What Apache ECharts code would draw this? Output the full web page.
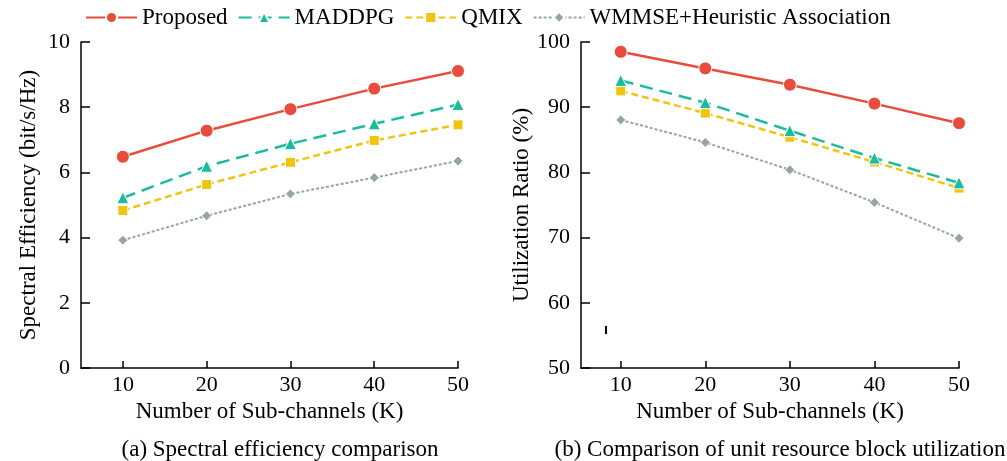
<!DOCTYPE html>
<html>
<head>
<meta charset="utf-8">
<script src="https://cdn.jsdelivr.net/npm/echarts@6/dist/echarts.min.js"></script>
<style>
  html, body { margin: 0; padding: 0; background: #fff; }
  #chart { width: 1007px; height: 461px; }
</style>
</head>
<body>
<div id="chart"></div>
<script>
// 横轴：子信道数
var subChannels = [10, 20, 30, 40, 50];
var seriesNames = ['Proposed', 'MADDPG', 'QMIX', 'WMMSE+Heuristic Association'];

// (a) 频谱效率
var seProposed = [6.48, 7.28, 7.94, 8.57, 9.11];
var seMaddpg = [5.22, 6.19, 6.88, 7.49, 8.08];
var seQmix = [4.83, 5.63, 6.31, 6.98, 7.46];
var seWmmse = [3.92, 4.67, 5.34, 5.84, 6.35];

// (b) 资源块利用率 (%)
var urProposed = [98.5, 95.95, 93.45, 90.55, 87.55];
var urMaddpg = [94.1, 90.7, 86.4, 82.2, 78.4];
var urQmix = [92.5, 89.1, 85.4, 81.6, 77.6];
var urWmmse = [88.05, 84.6, 80.4, 75.4, 69.9];

var yTicksA = [0, 2, 4, 6, 8, 10];
var yTicksB = [50, 60, 70, 80, 90, 100];

var colors = ['#e74c3c', '#1abc9c', '#f1c40f', '#95a5a6'];
var symbols = ['circle', 'triangle', 'rect', 'diamond'];
var symbolSizes = [13, 12, 10, 10];
var lineTypes = ['solid', [13, 7], [7, 4], [3, 2]];
var lineWidths = [2.5, 2.5, 2.5, 2];

var font = 'Liberation Serif';

function pairs(vals){
  var out = [];
  for (var i = 0; i < subChannels.length; i++) out.push([subChannels[i], vals[i]]);
  return out;
}

function xAxisCfg(idx, min){
  return {
    type: 'value', gridIndex: idx, min: min, max: 50,
    name: 'Number of Sub-channels (K)', nameLocation: 'middle', nameGap: 31,
    nameTextStyle: { fontFamily: font, fontSize: 23, color: '#000' },
    axisLine: { lineStyle: { color: '#000', width: 1.5 } },
    axisTick: { inside: true, length: 7, customValues: subChannels, lineStyle: { color: '#000', width: 1.5 } },
    axisLabel: { customValues: subChannels, fontFamily: font, fontSize: 22, color: '#000', margin: 6 },
    splitLine: { show: false }
  };
}

function yAxisCfg(idx, name, ticks, gap){
  return {
    type: 'value', gridIndex: idx, min: ticks[0], max: ticks[ticks.length - 1],
    interval: ticks[1] - ticks[0],
    name: name, nameLocation: 'middle', nameGap: gap,
    nameTextStyle: { fontFamily: font, fontSize: 23, color: '#000' },
    axisLine: { show: true, lineStyle: { color: '#000', width: 1.5 } },
    axisTick: { show: true, inside: true, length: 9, lineStyle: { color: '#000', width: 1.5 } },
    axisLabel: { fontFamily: font, fontSize: 22, color: '#000', margin: 11 },
    splitLine: { show: false }
  };
}

var dataA = [seProposed, seMaddpg, seQmix, seWmmse];
var dataB = [urProposed, urMaddpg, urQmix, urWmmse];
var series = [];
[dataA, dataB].forEach(function(group, g){
  group.forEach(function(vals, i){
    series.push({
      name: seriesNames[i],
      type: 'line',
      xAxisIndex: g, yAxisIndex: g,
      data: pairs(vals),
      symbol: symbols[i],
      symbolSize: symbolSizes[i],
      showAllSymbol: true,
      z: 10 - i,
      itemStyle: { color: colors[i], borderColor: '#fff', borderWidth: 1 },
      lineStyle: { color: colors[i], width: lineWidths[i], type: lineTypes[i] }
    });
  });
});

var chart = echarts.init(document.getElementById('chart'));
chart.setOption({
  animation: false,
  backgroundColor: '#fff',
  legend: {
    data: seriesNames,
    top: 1, left: 80,
    itemWidth: 51, itemHeight: 14, itemGap: 10,
    textStyle: { fontFamily: font, fontSize: 23, color: '#000' }
  },
  title: [
    { text: '(a) Spectral efficiency comparison', left: 275, top: 433, textAlign: 'center',
      textStyle: { fontFamily: font, fontSize: 23, fontWeight: 'normal', color: '#000' } },
    { text: '(b) Comparison of unit resource block utilization', left: 775, top: 433, textAlign: 'center',
      textStyle: { fontFamily: font, fontSize: 23, fontWeight: 'normal', color: '#000' } }
  ],
  grid: [
    { left: 81, top: 42, width: 377, height: 326 },
    { left: 581, top: 42, width: 378, height: 326 }
  ],
  xAxis: [xAxisCfg(0, 5), xAxisCfg(1, 5.3)],
  yAxis: [
    yAxisCfg(0, 'Spectral Efficiency (bit/s/Hz)', yTicksA, 41),
    yAxisCfg(1, 'Utilization Ratio (%)', yTicksB, 40)
  ],
  graphic: [
    { type: 'line', shape: { x1: 606, y1: 326, x2: 606, y2: 334 }, style: { stroke: '#000', lineWidth: 2 } }
  ],
  series: series
});
</script>
</body>
</html>
